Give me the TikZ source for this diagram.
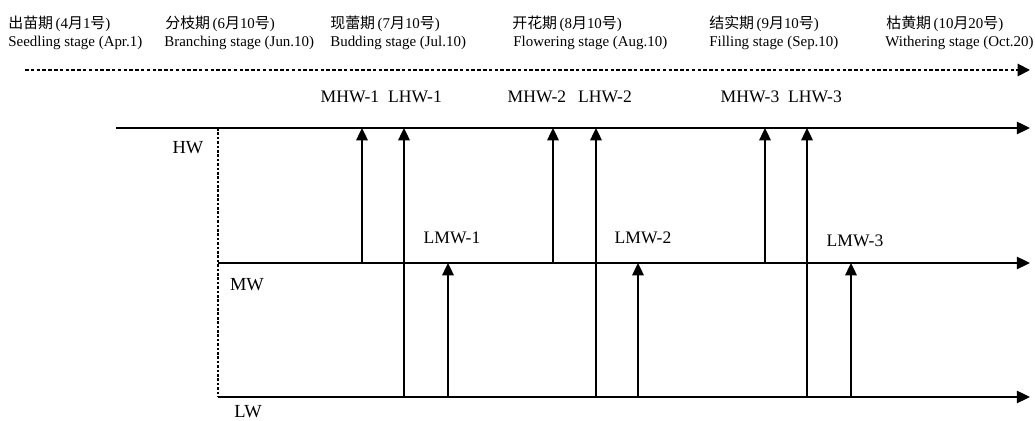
\documentclass[tikz,border=0pt]{standalone}
\usepackage{fontspec}
\setmainfont{Liberation Serif}
\newfontfamily\cjk{Noto Sans CJK SC}
\usetikzlibrary{arrows.meta}
\begin{document}
\begin{tikzpicture}[x=0.02cm,y=-0.02cm,
  hdr/.style={inner sep=0pt,anchor=base west,font=\fontsize{8.5}{10}\selectfont},
  lbl/.style={inner sep=0pt,font=\fontsize{10}{12}\selectfont},
  lvl/.style={inner sep=0pt,font=\fontsize{10.5}{12}\selectfont},
  axis/.style={line width=1.1pt,-{Triangle[length=7.5pt,width=7pt]}},
  up/.style={line width=1.1pt,-{Triangle[length=7pt,width=6.5pt]}},
  timeline/.style={line width=1.1pt,dash pattern=on 2pt off 1.3pt,-{Triangle[length=7pt,width=7pt]}},
  guide/.style={line width=0.9pt,dash pattern=on 1.5pt off 1pt}]
\useasboundingbox (0,0) rectangle (1035,421);
% header
\node[hdr] (c1) at (8,29) {\cjk 出苗期\,\rmfamily(4\cjk 月\rmfamily 1\cjk 号\rmfamily)};
\node[hdr] (e1) at (8,47) {Seedling stage (Apr.1)};
\node[hdr] (c2) at (165,29) {\cjk 分枝期\,\rmfamily(6\cjk 月\rmfamily 10\cjk 号\rmfamily)};
\node[hdr] (e2) at (164,47) {Branching stage (Jun.10)};
\node[hdr] (c3) at (330,29) {\cjk 现蕾期\,\rmfamily(7\cjk 月\rmfamily 10\cjk 号\rmfamily)};
\node[hdr] (e3) at (330,47) {Budding stage (Jul.10)};
\node[hdr] (c4) at (512,29) {\cjk 开花期\,\rmfamily(8\cjk 月\rmfamily 10\cjk 号\rmfamily)};
\node[hdr] (e4) at (513,47) {Flowering stage (Aug.10)};
\node[hdr] (c5) at (709,29) {\cjk 结实期\,\rmfamily(9\cjk 月\rmfamily 10\cjk 号\rmfamily)};
\node[hdr] (e5) at (709,47) {Filling stage (Sep.10)};
\node[hdr] (c6) at (886,29) {\cjk 枯黄期\,\rmfamily(10\cjk 月\rmfamily 20\cjk 号\rmfamily)};
\node[hdr] (e6) at (885,47) {Withering stage (Oct.20)};
% timeline
\coordinate (tlL) at (25,70);
\coordinate (tlR) at (1030,70);
\draw[timeline] (tlL) -- (tlR);
% level lines
\coordinate (hwL) at (116,128);
\coordinate (hwR) at (1030,128);
\coordinate (hwG) at (218,128);
\coordinate (mwL) at (218,263);
\coordinate (mwR) at (1030,263);
\coordinate (lwL) at (218,397);
\coordinate (lwR) at (1030,397);
\draw[axis] (hwL) -- (hwR);
\draw[axis] (mwL) -- (mwR);
\draw[axis] (lwL) -- (lwR);
\draw[guide] (hwG) -- (lwL);
\node[lvl] (HW) at (188,148) {HW};
\node[lvl] (MW) at (247,285) {MW};
\node[lvl] (LW) at (248,412) {LW};
% transfer arrows
\foreach \n/\x/\yb/\yt in {mh1/362/263/128, lh1/404/397/128, lm1/448/397/263,
                            mh2/553/263/128, lh2/596/397/128, lm2/638/397/263,
                            mh3/765/263/128, lh3/807/397/128, lm3/851/397/263}{
  \coordinate (\n b) at (\x,\yb);
  \coordinate (\n t) at (\x,\yt);
  \draw[up] (\n b) -- (\n t);
}
% labels
\node[lbl] (Lmh1) at (350,97) {MHW-1};
\node[lbl] (Llh1) at (415,97) {LHW-1};
\node[lbl] (Lmh2) at (537,97) {MHW-2};
\node[lbl] (Llh2) at (605,97) {LHW-2};
\node[lbl] (Lmh3) at (750,97) {MHW-3};
\node[lbl] (Llh3) at (815,97) {LHW-3};
\node[lbl] (Llm1) at (452,238) {LMW-1};
\node[lbl] (Llm2) at (643,238) {LMW-2};
\node[lbl] (Llm3) at (855,241) {LMW-3};
\end{tikzpicture}
\end{document}
